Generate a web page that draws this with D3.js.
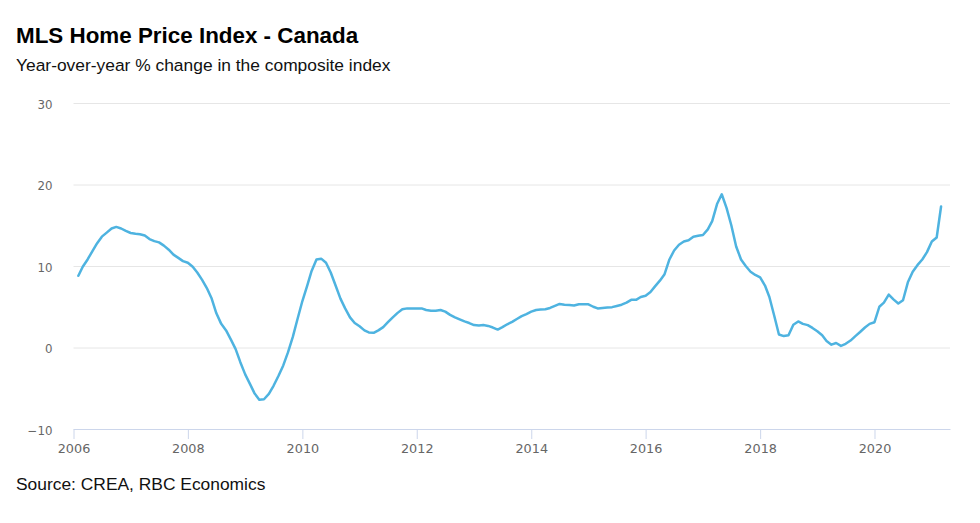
<!DOCTYPE html>
<html>
<head>
<meta charset="utf-8">
<script src="https://cdn.jsdelivr.net/npm/d3@7"></script>
<style>
  html, body { margin: 0; padding: 0; background: #fff; }
  svg { display: block; }
</style>
</head>
<body>
<svg id="chart" width="980" height="523"></svg>
<script>

/* First month of the series (Feb 2006) and year-over-year % change, monthly through Mar 2021 */
var startYear = 2006,
    startMonth = 1;

var yoyChange = [
  8.8, 9.9, 10.8, 11.8, 12.8, 13.6, 14.1, 14.6, 14.8, 14.6, 14.3,
  14.05, 13.95, 13.9, 13.75, 13.3, 13.05, 12.9, 12.5, 12.0, 11.4, 11.0, 10.6,
  10.4, 9.9, 9.2, 8.3, 7.3, 6.0, 4.2, 2.9, 2.1, 1.0, -0.2, -1.8,
  -3.3, -4.5, -5.6, -6.4, -6.35, -5.7, -4.7, -3.5, -2.2, -0.6, 1.3, 3.5,
  5.7, 7.6, 9.4, 10.8, 10.9, 10.4, 9.2, 7.6, 6.0, 4.8, 3.7, 3.0,
  2.6, 2.1, 1.85, 1.8, 2.1, 2.5, 3.1, 3.7, 4.25, 4.7, 4.8, 4.8,
  4.8, 4.8, 4.6, 4.5, 4.5, 4.6, 4.4, 4.0, 3.7, 3.45, 3.2, 3.0,
  2.75, 2.7, 2.75, 2.65, 2.45, 2.2, 2.5, 2.85, 3.15, 3.5, 3.85, 4.1,
  4.4, 4.6, 4.65, 4.7, 4.85, 5.1, 5.35, 5.25, 5.2, 5.15, 5.3, 5.3,
  5.3, 5.0, 4.8, 4.85, 4.9, 4.95, 5.1, 5.25, 5.5, 5.85, 5.85, 6.2,
  6.35, 6.8, 7.5, 8.2, 9.0, 10.8, 11.9, 12.6, 13.0, 13.15, 13.6, 13.7,
  13.8, 14.5, 15.5, 17.6, 18.8, 17.1, 15.0, 12.4, 10.8, 10.0, 9.3, 8.9,
  8.6, 7.6, 6.2, 3.9, 1.6, 1.4, 1.5, 2.8, 3.2, 2.9, 2.75, 2.4,
  2.0, 1.5, 0.8, 0.35, 0.55, 0.2, 0.45, 0.85, 1.4, 1.9, 2.45, 2.9,
  3.1, 5.0, 5.5, 6.5, 5.9, 5.4, 5.8, 8.0, 9.3, 10.1, 10.8, 11.7,
  13.0, 13.5, 17.3
];

var yTicks = [-10, 0, 10, 20, 30],
    xTickYears = [2006, 2008, 2010, 2012, 2014, 2016, 2018, 2020];

var titleText = "MLS Home Price Index - Canada",
    subtitleText = "Year-over-year % change in the composite index",
    sourceText = "Source: CREA, RBC Economics";

var series = yoyChange.map(function(v, i) {
  return {"date": new Date(startYear, startMonth + i, 1), "value": v};
});

var svg = d3.select("#chart");

var plot = {"left": 73.5, "right": 950, "top": 103, "bottom": 429};

var x = d3.scaleTime()
  .domain([new Date(2006, 0, 1), new Date(2021, 3, 27)])
  .range([plot.left, plot.right]);

var y = d3.scaleLinear()
  .domain([-10, 30])
  .range([plot.bottom, plot.top]);

/* Titles */
svg.append("text")
  .attr("x", 16)
  .attr("y", 43)
  .attr("font-family", "Liberation Sans, Arial, sans-serif")
  .attr("font-weight", "bold")
  .attr("font-size", 22.4)
  .attr("fill", "#000")
  .text(titleText);

svg.append("text")
  .attr("x", 16)
  .attr("y", 71)
  .attr("font-family", "Liberation Sans, Arial, sans-serif")
  .attr("font-size", 17.4)
  .attr("fill", "#111")
  .text(subtitleText);

svg.append("text")
  .attr("x", 16)
  .attr("y", 490)
  .attr("font-family", "Liberation Sans, Arial, sans-serif")
  .attr("font-size", 17.4)
  .attr("fill", "#111")
  .text(sourceText);

/* Horizontal grid lines and y labels */
var yAxis = d3.axisLeft(y)
  .tickValues(yTicks)
  .tickSize(-(plot.right - plot.left))
  .tickPadding(21)
  .tickFormat(d3.format("d"));

var gy = svg.append("g")
  .attr("transform", "translate(" + plot.left + ",0)")
  .call(yAxis);

gy.select(".domain").remove();
gy.selectAll(".tick line")
  .attr("stroke", "#e6e6e6")
  .attr("stroke-width", 1);
gy.selectAll(".tick text")
  .attr("fill", "#666")
  .attr("font-family", "DejaVu Sans, Verdana, sans-serif")
  .attr("font-size", 11.8)
  .attr("dy", "0.45em")
  .text(function(d) { return d < 0 ? "\u2212" + Math.abs(d) : d; });

/* Bottom axis */
var xAxis = d3.axisBottom(x)
  .tickValues(xTickYears.map(function(yr) { return new Date(yr, 0, 1); }))
  .tickSize(10)
  .tickSizeOuter(0)
  .tickPadding(5)
  .tickFormat(d3.timeFormat("%Y"));

var gx = svg.append("g")
  .attr("transform", "translate(0," + plot.bottom + ")")
  .call(xAxis);

gx.select(".domain")
  .attr("stroke", "#ccd6eb");
gx.selectAll(".tick line")
  .attr("stroke", "#ccd6eb");
gx.selectAll(".tick text")
  .attr("fill", "#666")
  .attr("font-family", "DejaVu Sans, Verdana, sans-serif")
  .attr("font-size", 12.8);

/* Series line */
var line = d3.line()
  .x(function(d) { return x(d.date); })
  .y(function(d) { return y(d.value); });

svg.append("path")
  .datum(series)
  .attr("fill", "none")
  .attr("stroke", "#4eb3e0")
  .attr("stroke-width", 2.5)
  .attr("stroke-linejoin", "round")
  .attr("stroke-linecap", "round")
  .attr("d", line);

</script>
</body>
</html>
